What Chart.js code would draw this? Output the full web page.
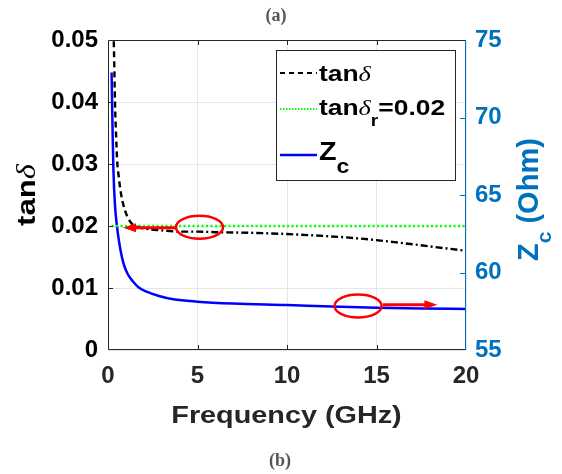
<!DOCTYPE html>
<html>
<head>
<meta charset="utf-8">
<script src="https://cdn.jsdelivr.net/npm/chart.js@4.4.1/dist/chart.umd.min.js"></script>
<style>
  html, body { margin: 0; padding: 0; background: #fff; }
  #wrap { width: 562px; height: 474px; }
</style>
</head>
<body>
<div id="wrap"><canvas id="myChart" width="562" height="474"></canvas></div>
<script>
// values
const freqTan = [0.3, 0.34, 0.39, 0.45, 0.52, 0.6, 0.71, 0.85, 1.04, 1.3, 1.6, 2, 3, 4, 5, 6, 8, 10, 12, 14, 16, 18, 20]
const tanDelta = [0.053, 0.0475, 0.040, 0.0347, 0.0302, 0.028, 0.0255, 0.0235, 0.0218, 0.0205, 0.0199, 0.0196, 0.0193, 0.0191, 0.0191, 0.0190, 0.0189, 0.0187, 0.0184, 0.0180, 0.0174, 0.0167, 0.0160]
const freqZc = [0.2, 0.25, 0.3, 0.39, 0.5, 0.63, 0.86, 1.1, 1.41, 1.7, 2.16, 2.8, 3.65, 5, 7, 10, 12.5, 15, 17.5, 20]
const zc = [72.9, 69.5, 66.7, 64.35, 63.0, 61.9, 60.6, 59.9, 59.4, 59.05, 58.76, 58.5, 58.27, 58.12, 58.0, 57.9, 57.8, 57.73, 57.68, 57.65]
const freqRef = [0.2, 20]
const tanRef = [0.02, 0.02]

// red markers (ellipse centre, arrow start / end), in data units
const marks = [
    { axis: 'y',  cx: 5.11,  cy: 0.0198, from: 3.8,  to: 0.84, ay: 0.0197 },
    { axis: 'y2', cx: 13.97, cy: 57.84,  from: 15.35, to: 18.4, ay: 57.92 }
]

const BLUE_AX = '#0072BD'
const FONT = '"Liberation Sans", Arial, sans-serif'
const SERIF = '"Liberation Serif", serif'

function pts(xs, ys){
    return xs.map((x, i) => ({ x, y: ys[i] }))
}

// draws a row of text pieces one after another, stretched by sx
function runs(ctx, x, y, parts, sx){
    parts.forEach(p => {
        ctx.font = p.font
        ctx.save()
        ctx.translate(x, y + (p.dy || 0))
        ctx.scale(sx, 1)
        ctx.fillText(p.t, 0, 0)
        ctx.restore()
        x += ctx.measureText(p.t).width * sx
    })
}

const extras = {
    id: 'extras',
    afterDraw(chart){
        const ctx = chart.ctx
        const a = chart.chartArea
        const sx = chart.scales.x, sy = chart.scales.y, sy2 = chart.scales.y2
        ctx.save()

        // red ellipses and arrows
        ctx.strokeStyle = '#FF0000'
        ctx.fillStyle = '#FF0000'
        marks.forEach(m => {
            const s = chart.scales[m.axis]
            ctx.lineWidth = 2.5
            ctx.beginPath()
            ctx.ellipse(sx.getPixelForValue(m.cx), s.getPixelForValue(m.cy), 23.5, 11.5, 0, 0, Math.PI * 2)
            ctx.stroke()
            const x0 = sx.getPixelForValue(m.from), x1 = sx.getPixelForValue(m.to), yy = s.getPixelForValue(m.ay)
            const dir = Math.sign(x1 - x0)
            ctx.lineWidth = 3
            ctx.beginPath()
            ctx.moveTo(x0, yy)
            ctx.lineTo(x1 - dir * 10, yy)
            ctx.stroke()
            ctx.beginPath()
            ctx.moveTo(x1, yy)
            ctx.lineTo(x1 - dir * 13, yy - 4.5)
            ctx.lineTo(x1 - dir * 13, yy + 4.5)
            ctx.closePath()
            ctx.fill()
        })

        // box and inward ticks
        ctx.lineWidth = 1
        ctx.strokeStyle = '#262626'
        ctx.beginPath()
        ctx.moveTo(a.right, a.top + 0.5); ctx.lineTo(a.left + 0.5, a.top + 0.5)
        ctx.lineTo(a.left + 0.5, a.bottom - 0.5); ctx.lineTo(a.right, a.bottom - 0.5)
        ;[5, 10, 15].forEach(v => {
            const px = Math.round(sx.getPixelForValue(v)) + 0.5
            ctx.moveTo(px, a.bottom); ctx.lineTo(px, a.bottom - 5)
            ctx.moveTo(px, a.top); ctx.lineTo(px, a.top + 5)
        })
        ;[0.01, 0.02, 0.03, 0.04].forEach(v => {
            const py = Math.round(sy.getPixelForValue(v)) + 0.5
            ctx.moveTo(a.left, py); ctx.lineTo(a.left + 5, py)
        })
        ctx.stroke()
        ctx.strokeStyle = BLUE_AX
        ctx.beginPath()
        ctx.moveTo(a.right - 0.5, a.top); ctx.lineTo(a.right - 0.5, a.bottom)
        ;[60, 65, 70].forEach(v => {
            const py = Math.round(sy2.getPixelForValue(v)) + 0.5
            ctx.moveTo(a.right, py); ctx.lineTo(a.right - 6, py)
        })
        ctx.stroke()

        // legend
        const lx = 276.5, ly = 50.5, lw = 179, lh = 130
        ctx.fillStyle = '#fff'
        ctx.fillRect(lx, ly, lw, lh)
        ctx.strokeStyle = '#262626'
        ctx.strokeRect(lx, ly, lw, lh)
        const rows = [
            { y: 73, color: '#000', dash: [5, 4], width: 2.2 },
            { y: 109, color: '#00FF00', dash: [1.5, 1.5], width: 2.2 },
            { y: 155, color: '#0000FF', dash: [], width: 2.5 }
        ]
        rows.forEach(r => {
            ctx.strokeStyle = r.color
            ctx.lineWidth = r.width
            ctx.setLineDash(r.dash)
            ctx.beginPath()
            ctx.moveTo(280, r.y); ctx.lineTo(317, r.y)
            ctx.stroke()
        })
        ctx.setLineDash([])
        ctx.fillStyle = '#000'
        ctx.textBaseline = 'alphabetic'
        ctx.textAlign = 'left'
        const B22 = 'bold 22px ' + FONT
        const DEL = 'italic 22px ' + SERIF
        runs(ctx, 319, 81, [{ t: 'tan', font: B22 }, { t: 'δ', font: DEL }], 1.2)
        runs(ctx, 319, 115, [{ t: 'tan', font: B22 }, { t: 'δ', font: DEL }, { t: 'r', font: 'bold 16px ' + FONT, dy: 11 }, { t: '=0.02', font: B22 }], 1.2)
        runs(ctx, 319, 160, [{ t: 'Z', font: 'bold 25px ' + FONT }, { t: 'c', font: 'bold 20px ' + FONT, dy: 13 }], 1.15)

        // axis titles
        ctx.save()
        ctx.translate(35, 226)
        ctx.rotate(-Math.PI / 2)
        runs(ctx, 0, 0, [{ t: 'tan', font: 'bold 26px ' + FONT }, { t: 'δ', font: 'italic 27px ' + SERIF }], 1.2)
        ctx.restore()

        ctx.save()
        ctx.fillStyle = BLUE_AX
        ctx.translate(538, 261)
        ctx.rotate(-Math.PI / 2)
        runs(ctx, 0, 0, [{ t: 'Z', font: 'bold 29px ' + FONT }, { t: 'c', font: 'bold 21px ' + FONT, dy: 13 }, { t: ' (Ohm)', font: 'bold 29px ' + FONT }], 1)
        ctx.restore()

        ctx.fillStyle = '#262626'
        ctx.textAlign = 'center'
        ctx.font = 'bold 24px ' + FONT
        ctx.save()
        ctx.translate(286.5, 423)
        ctx.scale(1.2, 1)
        ctx.fillText('Frequency (GHz)', 0, 0)
        ctx.restore()

        ctx.fillStyle = '#555'
        ctx.font = 'bold 18px ' + SERIF
        ctx.fillText('(a)', 276, 21)
        ctx.fillText('(b)', 280, 466)
        ctx.restore()
    }
}

const ctx = document.getElementById('myChart')
new Chart(ctx, {
    type: 'line',
    data: {
        datasets: [
            {
                label: 'tanδ',
                data: pts(freqTan, tanDelta),
                yAxisID: 'y',
                borderColor: '#000',
                borderWidth: 2.4,
                pointRadius: 0,
                cubicInterpolationMode: 'monotone',
                borderDash: [6, 4],
                segment: {
                    borderDash: c => c.p0.parsed.x >= 1.6 ? [7, 3, 2, 3] : [6, 4]
                }
            },
            {
                label: 'tanδr=0.02',
                data: pts(freqRef, tanRef),
                yAxisID: 'y',
                borderColor: '#00FF00',
                borderWidth: 2.4,
                borderDash: [2, 2.5],
                pointRadius: 0
            },
            {
                label: 'Zc',
                data: pts(freqZc, zc),
                yAxisID: 'y2',
                borderColor: '#0000FF',
                borderWidth: 2.5,
                pointRadius: 0,
                cubicInterpolationMode: 'monotone'
            }
        ]
    },
    options: {
        responsive: false,
        animation: false,
        layout: { padding: { top: 40, left: 0, right: 0, bottom: 0 } },
        plugins: {
            legend: { display: false },
            tooltip: { enabled: false }
        },
        scales: {
            x: {
                type: 'linear',
                min: 0, max: 20,
                ticks: { stepSize: 5, color: '#262626', font: { family: FONT, size: 24, weight: 'bold' }, padding: 12, maxRotation: 0 },
                grid: { color: '#e6e6e6', drawTicks: false },
                border: { display: false },
                afterFit: s => { s.height = 124 }
            },
            y: {
                position: 'left',
                min: 0, max: 0.05,
                ticks: {
                    stepSize: 0.01, color: '#000', padding: 10,
                    font: { family: FONT, size: 24, weight: 'bold' },
                    callback: v => v === 0 ? '0' : v.toFixed(2)
                },
                grid: { color: '#e6e6e6', drawTicks: false },
                border: { display: false },
                afterFit: s => { s.width = 108 }
            },
            y2: {
                position: 'right',
                min: 55, max: 75,
                ticks: { stepSize: 5, color: BLUE_AX, padding: 9, font: { family: FONT, size: 24, weight: 'bold' } },
                grid: { display: false, drawTicks: false },
                border: { display: false },
                afterFit: s => { s.width = 96 }
            }
        }
    },
    plugins: [extras]
})
</script>
</body>
</html>
